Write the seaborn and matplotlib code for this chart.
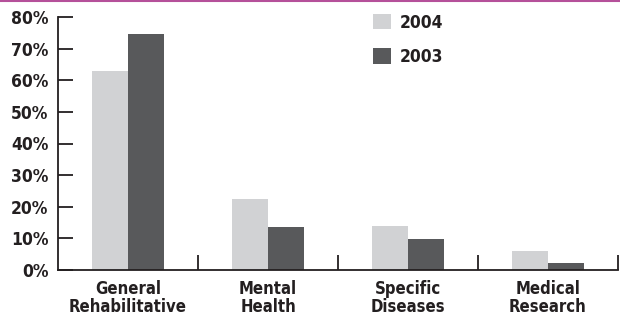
import pandas as pd
import seaborn as sns
import matplotlib.pyplot as plt
from matplotlib.lines import Line2D

categories = ["General\nRehabilitative", "Mental\nHealth", "Specific\nDiseases", "Medical\nResearch"]
years = ["2004", "2003"]
values_2004 = [63, 22.5, 14, 6]
values_2003 = [74.5, 13.7, 9.8, 2.2]
yticks = [0, 10, 20, 30, 40, 50, 60, 70, 80]

df = pd.DataFrame({
    "category": categories * 2,
    "year": [years[0]] * 4 + [years[1]] * 4,
    "value": values_2004 + values_2003,
})

sns.set_style("white")
plt.rcParams["font.family"] = ["DejaVu Sans"]
plt.rcParams["font.weight"] = "bold"
plt.rcParams["font.stretch"] = "condensed"

fig = plt.figure(figsize=(6.2, 3.16), dpi=100)
ax = fig.add_axes([58 / 620, 1 - 270 / 316, 560 / 620, 253 / 316])

sns.barplot(data=df, x="category", y="value", hue="year", hue_order=years,
            palette=["#d1d2d4", "#58595b"], width=0.515, gap=0, saturation=1,
            linewidth=0, ax=ax)

ax.set_xlim(-0.5, 3.5)
ax.set_ylim(0, 80)
ax.set_yticks(yticks)
ax.set_yticklabels([f"{t}%" for t in yticks], fontsize=12.5, fontweight="bold", color="#231f20")
ax.tick_params(axis="y", direction="in", length=11, width=1.3, color="#231f20", pad=7, left=True)
ax.tick_params(axis="x", which="major", length=0, pad=7, labelsize=12, labelcolor="#231f20")
for lab in ax.get_xticklabels():
    lab.set_fontweight("bold")
    lab.set_linespacing(1.05)
ax.set_xticks([0.5, 1.5, 2.5, 3.5], minor=True)
ax.tick_params(axis="x", which="minor", direction="in", length=11, width=1.3,
               color="#231f20", bottom=True)
ax.set_xlabel("")
ax.set_ylabel("")

for side in ["top", "right"]:
    ax.spines[side].set_visible(False)
for side in ["left", "bottom"]:
    ax.spines[side].set_linewidth(1.3)
    ax.spines[side].set_color("#231f20")

leg = ax.legend(loc="upper left", bbox_to_anchor=(0.535, 1.075), frameon=False,
                handlelength=1.0, handleheight=1.0, handletextpad=0.55,
                labelspacing=0.95, prop={"size": 12.5, "weight": "bold"})
for t in leg.get_texts():
    t.set_color("#231f20")

fig.add_artist(Line2D([0, 1], [0.997, 0.997], transform=fig.transFigure,
                      color="#b5509a", linewidth=1.5))

fig.savefig("out.png", dpi=100)
